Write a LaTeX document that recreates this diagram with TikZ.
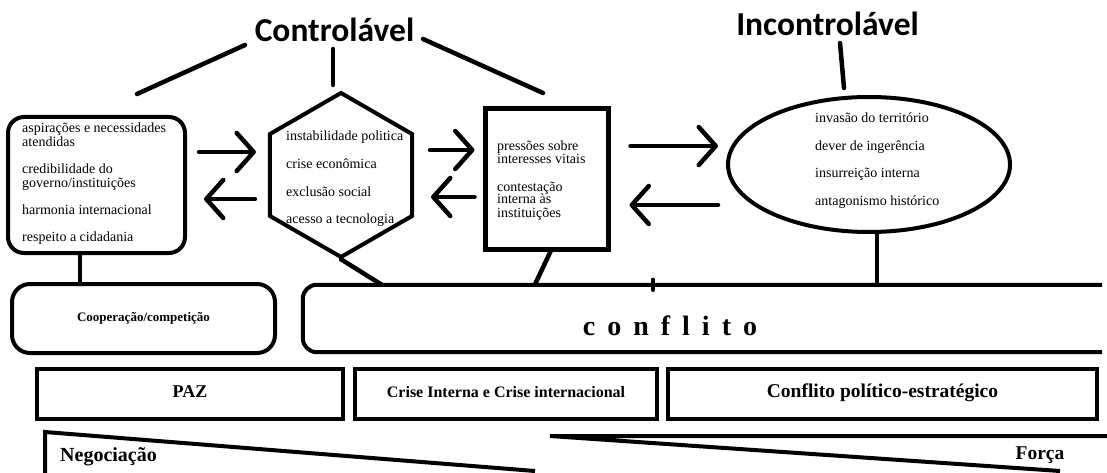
\documentclass[tikz,border=0pt]{standalone}
\usepackage{fontspec}
\setmainfont{Liberation Serif}
\newfontfamily\ttlfont{Carlito}
\usetikzlibrary{shapes.geometric,arrows.meta,calc}
\newcommand{\cgap}{\hspace{12pt}}
\begin{document}
\begin{tikzpicture}[x=1pt,y=-1pt,
  shapeline/.style={draw=black,line width=4pt},
  conn/.style={line width=4.5pt,line cap=round},
  arr/.style={line width=4.5pt,line cap=round,-{Straight Barb[length=17pt,width=38pt,round]}},
  small/.style={font=\fontsize{14}{14}\selectfont,inner sep=0pt,anchor=base west},
  titletext/.style={font=\ttlfont\bfseries\fontsize{33.5}{33.5}\selectfont,inner sep=0pt,anchor=base},
  bottombox/.style={draw=black,line width=4pt,inner sep=0pt,minimum height=50pt,text height=0.75em,text depth=0.1em},
  boldtext/.style={inner sep=0pt,font=\bfseries\fontsize{20}{20}\selectfont}
]
\fill[white] (0,0) rectangle (1107,473);
\useasboundingbox (0,0) rectangle (1107,473);

% titles
\node[titletext] (ctrl) at (334.5,42) {Controlável};
\node[titletext] (inctrl) at (827.5,36) {Incontrolável};

% upper shapes
\node[shapeline, rounded corners=16pt, minimum width=177pt, minimum height=136pt, inner sep=0pt] (lbox) at (96.5,185) {};
\node[shapeline, regular polygon, regular polygon sides=6, shape border rotate=30, minimum size=164pt, inner sep=0pt] (hex) at (341,175) {};
\node[shapeline, line width=5pt, minimum width=123pt, minimum height=140pt, inner sep=0pt] (rect) at (546.5,179) {};
\node[shapeline, ellipse, minimum width=282pt, minimum height=135pt, inner sep=0pt] (ell) at (869,164.5) {};

% middle row
\node[shapeline, rounded corners=18pt, minimum width=263pt, minimum height=69pt, inner sep=0pt, font=\bfseries\fontsize{13}{13}\selectfont] (coop) at (143.5,318.5) {Cooperação/competição};
\node[inner sep=0pt, minimum width=799pt, minimum height=67pt] (conf) at (702.5,318.5) {};
\draw[shapeline, rounded corners=14pt] (conf.north east) -- (conf.north west) -- (conf.south west) -- (conf.south east);
\node[font=\bfseries\fontsize{28}{28}\selectfont, inner sep=0pt, anchor=base] (conftxt) at (670,335) {c\cgap o\cgap n\cgap f\cgap l\cgap i\cgap t\cgap o};

% bottom row
\node[bottombox, minimum width=306pt, font=\bfseries\fontsize{18}{18}\selectfont] (paz) at (190,394) {PAZ};
\node[bottombox, minimum width=302pt, font=\bfseries\fontsize{16}{16}\selectfont] (crise) at (506,394) {Crise Interna e Crise internacional};
\node[bottombox, minimum width=429pt, font=\bfseries\fontsize{19.5}{19.5}\selectfont] (cpe) at (882.5,394) {Conflito político-estratégico};

% wedges
\coordinate (negtop) at (45,432);
\coordinate (negend) at (535,471);
\coordinate (negbot) at (45,476);
\draw[shapeline] (negend) -- (negtop) -- (negbot);
\node[boldtext, anchor=base west] (neg) at (60,461) {Negociação};
\coordinate (ftop) at (550,436);
\coordinate (fright) at (1110,436);
\coordinate (fend) at (1060,471);
\draw[shapeline] (fright) -- (ftop) -- (fend);
\node[boldtext, font=\bfseries\fontsize{19.5}{19.5}\selectfont, anchor=base] (forca) at (1040,459) {Força};

% title connectors
\coordinate (t1a) at (245,45);  \coordinate (t1b) at (137,94);
\coordinate (t2a) at (333,49);  \coordinate (t2b) at (333,85);
\coordinate (t3a) at (423,39);  \coordinate (t3b) at (543,93);
\coordinate (t4a) at (840,43);  \coordinate (t4b) at (844,88);
\draw[conn] (t1a) -- (t1b);
\draw[conn] (t2a) -- (t2b);
\draw[conn] (t3a) -- (t3b);
\draw[conn] (t4a) -- (t4b);

% arrows
\coordinate (ya1) at (0,152);
\coordinate (ya2) at (0,199);
\coordinate (ya3) at (0,150);
\coordinate (ya4) at (0,197);
\coordinate (ya5) at (0,146);
\coordinate (ya6) at (0,205);
\draw[arr, shorten <=12pt, shorten >=12pt] (lbox.east |- ya1) -- (hex.west |- ya1);
\draw[arr, shorten <=13pt, shorten >=17pt] (hex.west |- ya2) -- (lbox.east |- ya2);
\draw[arr, shorten <=16pt, shorten >=8pt] (hex.east |- ya3) -- (rect.west |- ya3);
\draw[arr, shorten <=8pt, shorten >=17pt] (rect.west |- ya4) -- (hex.east |- ya4);
\draw[arr, shorten <=20pt, shorten >=8pt] (rect.east |- ya5) -- (ell.west |- ya5);
\draw[arr, shorten <=8pt, shorten >=19pt] (ell.west |- ya6) -- (rect.east |- ya6);

% lower connectors
\coordinate (x80) at (80,0);
\draw[conn] (lbox.south -| x80) -- (coop.north -| x80);
\draw[conn] (hex.south) -- ($(conf.north west)+(79,0)$);
\draw[conn] ($(rect.south)+(4,0)$) -- ($(conf.north west)+(232,0)$);
\draw[conn] ([xshift=8pt]ell.south) -- ([xshift=8pt]ell.south |- conf.north);
\draw[conn] ($(conf.north west)+(350,-5)$) -- ($(conf.north west)+(350,5)$);

% texts in left box
\node[small] (l1) at (22,133) {aspirações e necessidades};
\node[small] (l2) at (22,147) {atendidas};
\node[small] (l3) at (22,174) {credibilidade do};
\node[small] (l4) at (22,187) {governo/instituições};
\node[small] (l5) at (22,214) {harmonia internacional};
\node[small] (l6) at (22,241) {respeito a cidadania};
% texts in hexagon
\node[small] (h1) at (286,141) {instabilidade politica};
\node[small] (h2) at (286,168) {crise econômica};
\node[small] (h3) at (286,196) {exclusão social};
\node[small] (h4) at (286,223) {acesso a tecnologia};
% texts in rectangle
\node[small] (r1) at (497,151) {pressões sobre};
\node[small] (r2) at (497,164) {interesses vitais};
\node[small] (r3) at (497,191) {contestação};
\node[small] (r4) at (497,204) {interna às};
\node[small] (r5) at (497,217) {instituições};
% texts in ellipse
\node[small] (e1) at (815,123) {invasão do território};
\node[small] (e2) at (815,151) {dever de ingerência};
\node[small] (e3) at (815,178) {insurreição interna};
\node[small] (e4) at (815,205) {antagonismo histórico};
\end{tikzpicture}
\end{document}
